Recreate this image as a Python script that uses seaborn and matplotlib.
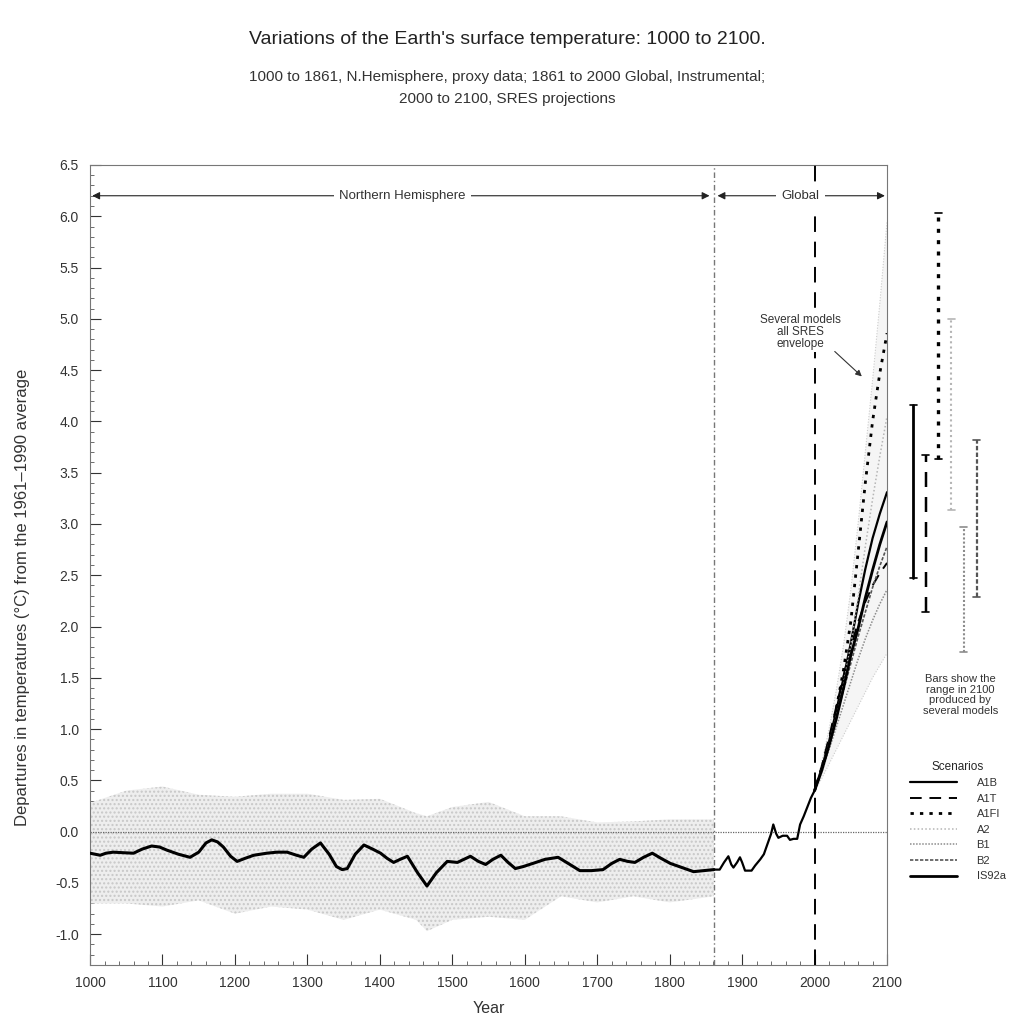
import numpy as np
import pandas as pd
import matplotlib
matplotlib.use("Agg")
import matplotlib.pyplot as plt
import seaborn as sns
from matplotlib.ticker import MultipleLocator, FormatStrFormatter
from matplotlib.lines import Line2D

sns.set_theme(style="ticks")
plt.rcParams['font.family'] = ['Liberation Sans', 'DejaVu Sans']
plt.rcParams['axes.unicode_minus'] = False

# ---------------- data ----------------
# Northern Hemisphere proxy reconstruction (smoothed, black line)
proxy_years = [1000, 1007, 1014, 1022, 1032, 1045, 1060, 1072, 1085, 1096, 1106, 1122,
               1138, 1150, 1160, 1168, 1176, 1184, 1194, 1203, 1214, 1226, 1244, 1258,
               1272, 1285, 1295, 1306, 1318, 1330, 1340, 1348, 1355, 1366, 1378, 1390,
               1401, 1410, 1419, 1428, 1438, 1452, 1465, 1478, 1493, 1507, 1516, 1525,
               1536, 1546, 1556, 1567, 1577, 1587, 1598, 1611, 1628, 1646, 1660, 1676,
               1692, 1708, 1720, 1731, 1742, 1752, 1764, 1776, 1788, 1801, 1817, 1833,
               1847, 1861]
proxy_smooth = [-0.21, -0.22, -0.23, -0.21, -0.20, -0.205, -0.21, -0.17, -0.14, -0.15,
                -0.18, -0.22, -0.25, -0.20, -0.11, -0.08, -0.10, -0.15, -0.24, -0.29,
                -0.26, -0.23, -0.21, -0.20, -0.20, -0.23, -0.25, -0.17, -0.11, -0.22,
                -0.34, -0.37, -0.36, -0.22, -0.13, -0.17, -0.21, -0.26, -0.30, -0.27,
                -0.24, -0.40, -0.53, -0.40, -0.29, -0.30, -0.27, -0.24, -0.29, -0.32,
                -0.27, -0.23, -0.30, -0.36, -0.34, -0.31, -0.27, -0.25, -0.31, -0.38,
                -0.38, -0.37, -0.31, -0.27, -0.29, -0.30, -0.25, -0.21, -0.26, -0.31,
                -0.35, -0.39, -0.38, -0.37]

# envelope of the annual proxy values (grey spread)
band_years = [1000, 1050, 1100, 1150, 1200, 1250, 1300, 1350, 1400, 1450, 1465, 1500,
              1550, 1600, 1650, 1700, 1750, 1800, 1861]
band_upper = [0.28, 0.40, 0.44, 0.36, 0.34, 0.37, 0.37, 0.31, 0.32, 0.18, 0.15, 0.24,
              0.29, 0.15, 0.15, 0.09, 0.10, 0.12, 0.12]
band_lower = [-0.70, -0.70, -0.73, -0.67, -0.80, -0.73, -0.76, -0.86, -0.76, -0.86, -0.97,
              -0.86, -0.83, -0.86, -0.63, -0.69, -0.63, -0.69, -0.63]

# Global instrumental record
instr_years = [1861, 1869, 1875, 1881, 1885, 1888, 1893, 1897, 1900, 1904, 1910, 1913,
               1918, 1925, 1930, 1934, 1940, 1943, 1947, 1950, 1956, 1962, 1966, 1971,
               1976, 1978, 1980, 1985, 1990, 1995, 2000]
instr_values = [-0.37, -0.37, -0.30, -0.24, -0.32, -0.35, -0.30, -0.25, -0.30, -0.38,
                -0.38, -0.38, -0.33, -0.27, -0.22, -0.14, -0.02, 0.07, -0.02, -0.06,
                -0.04, -0.04, -0.08, -0.07, -0.07, 0.00, 0.07, 0.15, 0.24, 0.33, 0.40]

# SRES projections
proj_years = [2000, 2010, 2020, 2030, 2040, 2050, 2060, 2070, 2080, 2090, 2100]
scen_A1B = [0.40, 0.62, 0.88, 1.18, 1.50, 1.84, 2.22, 2.56, 2.86, 3.10, 3.31]
scen_A1T = [0.40, 0.64, 0.92, 1.22, 1.52, 1.80, 2.04, 2.24, 2.40, 2.52, 2.62]
scen_A1FI = [0.40, 0.62, 0.88, 1.20, 1.58, 2.05, 2.72, 3.40, 4.00, 4.47, 4.86]
scen_A2 = [0.40, 0.60, 0.84, 1.12, 1.44, 1.82, 2.28, 2.78, 3.24, 3.66, 4.05]
scen_B1 = [0.40, 0.58, 0.80, 1.02, 1.24, 1.46, 1.68, 1.88, 2.06, 2.22, 2.36]
scen_B2 = [0.40, 0.61, 0.86, 1.12, 1.38, 1.64, 1.90, 2.14, 2.38, 2.59, 2.78]
scen_IS92a = [0.40, 0.60, 0.84, 1.10, 1.40, 1.72, 1.98, 2.28, 2.55, 2.80, 3.02]
env_upper = [0.40, 0.68, 1.00, 1.38, 1.82, 2.36, 3.00, 3.70, 4.40, 5.15, 5.95]
env_lower = [0.40, 0.52, 0.66, 0.80, 0.94, 1.08, 1.22, 1.36, 1.50, 1.62, 1.74]

scenario_names = ["A1B", "A1T", "A1FI", "A2", "B1", "B2", "IS92a"]
scenario_values = [scen_A1B, scen_A1T, scen_A1FI, scen_A2, scen_B1, scen_B2, scen_IS92a]

# range bars in 2100
bar_names = ["A1B", "A1T", "A1FI", "A2", "B1", "B2"]
bar_low = [2.47, 2.14, 3.63, 3.14, 1.75, 2.29]
bar_high = [4.16, 3.67, 6.03, 5.00, 2.97, 3.82]

x_ticks = [1000, 1100, 1200, 1300, 1400, 1500, 1600, 1700, 1800, 1900, 2000, 2100]
y_ticks = [-1.0, -0.5, 0.0, 0.5, 1.0, 1.5, 2.0, 2.5, 3.0, 3.5, 4.0, 4.5, 5.0, 5.5, 6.0, 6.5]

# ---------------- styles ----------------
styles = {
    "A1B": dict(color="black", lw=1.6, ls="-"),
    "A1T": dict(color="black", lw=1.4, ls=(0, (6, 4))),
    "A1FI": dict(color="black", lw=2.0, ls=(0, (1.2, 2.2))),
    "A2": dict(color="#b5b5b5", lw=1.1, ls=(0, (1, 1.5))),
    "B1": dict(color="#8c8c8c", lw=1.1, ls=(0, (1, 1))),
    "B2": dict(color="#555555", lw=1.2, ls=(0, (2, 1))),
    "IS92a": dict(color="black", lw=2.0, ls="-"),
}

fig = plt.figure(figsize=(10.14, 10.19), dpi=100)
ax = fig.add_axes([0.0888, 0.0530, 0.7860, 0.7851])
ax.set_facecolor("white")

# grey proxy spread
ax.fill_between(band_years, band_lower, band_upper, facecolor="#eeeeee",
                edgecolor="#c8c8c8", hatch="....", linewidth=0, zorder=1)

# zero line
ax.axhline(0, color="#666666", lw=0.9, ls=(0, (1, 1)), zorder=2)

# projection envelope
ax.fill_between(proj_years, env_lower, env_upper, facecolor="#f5f5f5",
                edgecolor="none", zorder=1)
sns.lineplot(x=proj_years, y=env_upper, ax=ax, color="#cccccc", linewidth=0.8,
             linestyle=(0, (1, 1.5)), zorder=2)
sns.lineplot(x=proj_years, y=env_lower, ax=ax, color="#cccccc", linewidth=0.8,
             linestyle=(0, (1, 1.5)), zorder=2)

# proxy smooth and instrumental lines
sns.lineplot(x=proxy_years, y=proxy_smooth, ax=ax, color="black", linewidth=2.2, zorder=4)
sns.lineplot(x=instr_years, y=instr_values, ax=ax, color="black", linewidth=1.6, zorder=4)

# scenario lines
handles = []
for name, vals in zip(scenario_names, scenario_values):
    st = styles[name]
    sns.lineplot(x=proj_years, y=vals, ax=ax, color=st["color"], linewidth=st["lw"],
                 linestyle=st["ls"], zorder=5)
    handles.append(Line2D([0], [0], color=st["color"], lw=st["lw"], ls=st["ls"], label=name))

# vertical separators
ax.axvline(1861, color="#777777", lw=1.0, ls=(0, (4, 2, 1, 2)), zorder=3)
ax.axvline(2000, color="black", lw=1.4, ls=(0, (8, 5)), zorder=3)

# range bars beyond 2100
for i, (name, lo, hi) in enumerate(zip(bar_names, bar_low, bar_high)):
    st = styles[name]
    xb = 2136 + i * 17.5
    ax.plot([xb, xb], [lo, hi], color=st["color"], lw=st["lw"] + 0.4, ls=st["ls"],
            clip_on=False, zorder=5)
    for yv in (lo, hi):
        ax.plot([xb - 5, xb + 5], [yv, yv], color=st["color"], lw=1.2,
                clip_on=False, zorder=5)

# region arrows
arr = dict(arrowstyle="<|-|>", color="#222222", lw=0.8, shrinkA=0, shrinkB=0,
           mutation_scale=11)
ax.annotate("", xy=(1003, 6.2), xytext=(1855, 6.2), arrowprops=arr, zorder=6)
ax.annotate("", xy=(1866, 6.2), xytext=(2097, 6.2), arrowprops=arr, zorder=6)
ax.text(1431, 6.2, "Northern Hemisphere", ha="center", va="center", fontsize=9.5,
        color="#333333", bbox=dict(facecolor="white", edgecolor="none", pad=4), zorder=7)
ax.text(1981, 6.2, "Global", ha="center", va="center", fontsize=9.5,
        color="#333333", bbox=dict(facecolor="white", edgecolor="none", pad=4), zorder=7)

# envelope annotation
ax.text(1980, 4.87, "Several models\nall SRES\nenvelope", ha="center", va="center",
        fontsize=8.5, color="#333333", linespacing=1.0,
        bbox=dict(facecolor="white", edgecolor="none", pad=1), zorder=7)
ax.annotate("", xy=(2068, 4.42), xytext=(2025, 4.7),
            arrowprops=dict(arrowstyle="-|>", color="#333333", lw=0.8,
                            mutation_scale=9), zorder=7)

# axes formatting
ax.set_xlim(1000, 2100)
ax.set_ylim(-1.3, 6.5)
ax.set_xticks(x_ticks)
ax.set_yticks(y_ticks)
ax.xaxis.set_minor_locator(MultipleLocator(20))
ax.yaxis.set_minor_locator(MultipleLocator(0.1))
ax.yaxis.set_major_formatter(FormatStrFormatter("%.1f"))
ax.tick_params(axis="both", which="major", direction="in", length=8, width=0.8,
               labelsize=10, colors="#333333")
ax.tick_params(axis="both", which="minor", direction="in", length=3, width=0.6,
               colors="#555555")
ax.tick_params(axis="y", pad=8)
ax.tick_params(axis="x", pad=8)
for sp in ax.spines.values():
    sp.set_color("#777777")
    sp.set_linewidth(0.8)
    sp.set_visible(True)

ax.set_xlabel("Year", fontsize=11.5, color="#333333", labelpad=8)
ax.set_ylabel("")
fig.text(0.022, 0.414, "Departures in temperatures (\u00b0C) from the 1961\u20131990 average",
         rotation=90, ha="center", va="center", fontsize=12, color="#333333")

# titles
fig.text(0.50, 0.961, "Variations of the Earth's surface temperature: 1000 to 2100.",
         ha="center", va="center", fontsize=14, color="#222222")
fig.text(0.50, 0.924, "1000 to 1861, N.Hemisphere, proxy data; 1861 to 2000 Global, Instrumental;",
         ha="center", va="center", fontsize=11, color="#333333")
fig.text(0.50, 0.903, "2000 to 2100, SRES projections",
         ha="center", va="center", fontsize=11, color="#333333")

# bars note
fig.text(0.947, 0.318, "Bars show the\nrange in 2100\nproduced by\nseveral models",
         ha="center", va="center", fontsize=8, color="#333333", linespacing=1.1)

# legend
leg = fig.legend(handles=handles, title="Scenarios", loc="upper left",
                 bbox_to_anchor=(0.893, 0.258), frameon=False, fontsize=8,
                 title_fontsize=8.5, handlelength=4.2, labelspacing=0.5,
                 handletextpad=1.8, borderaxespad=0)
for t in leg.get_texts():
    t.set_color("#333333")

fig.savefig("out.png", dpi=100, facecolor="white")
